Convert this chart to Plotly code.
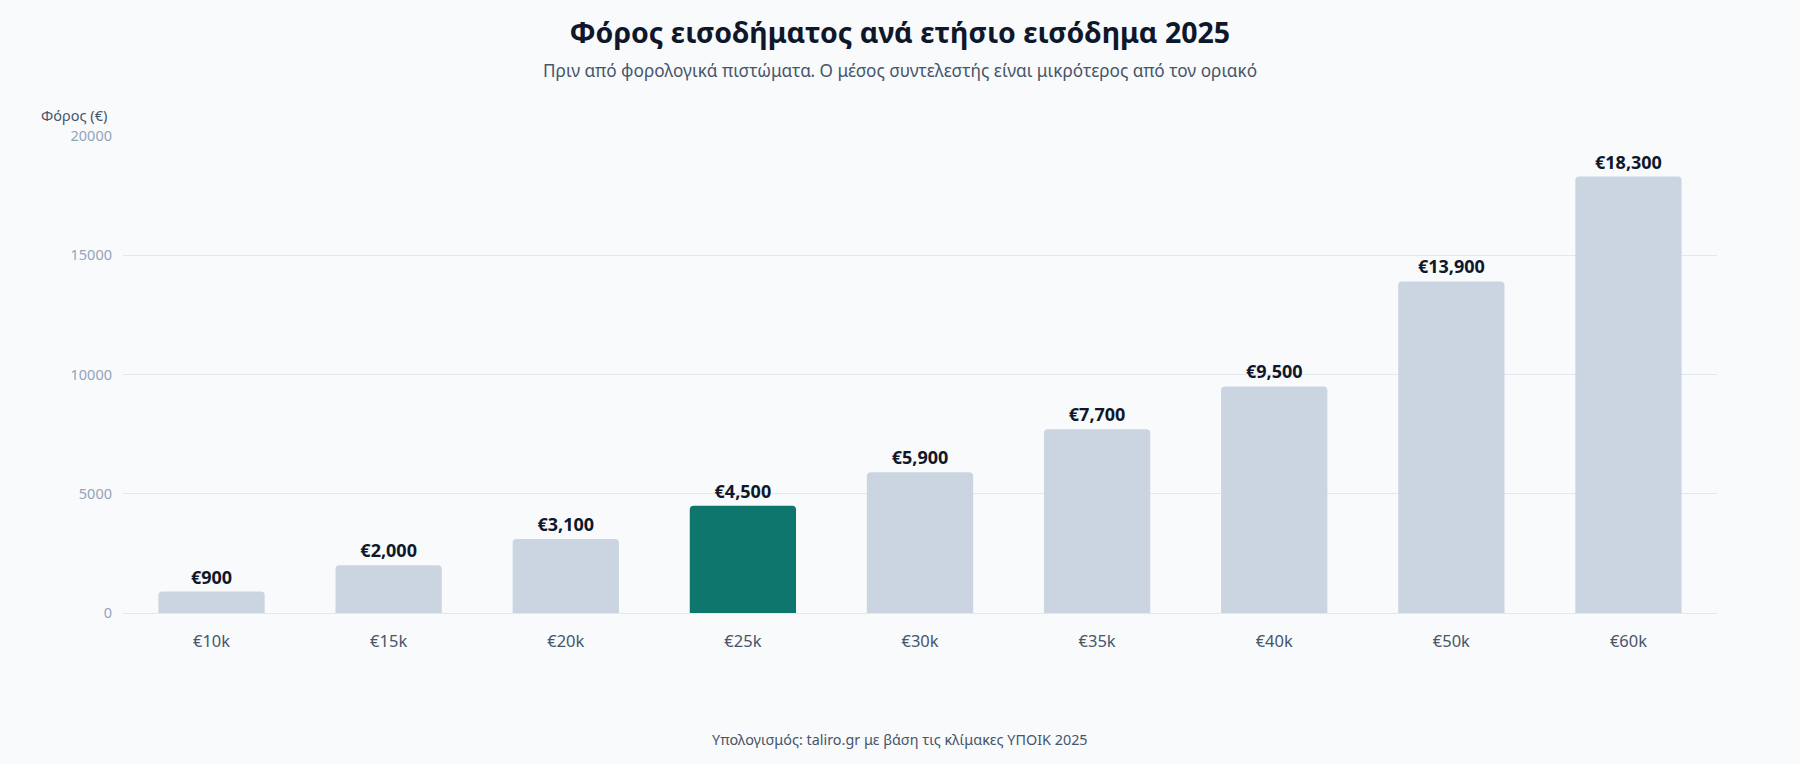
import plotly.graph_objects as go

categories = ["€10k", "€15k", "€20k", "€25k", "€30k", "€35k", "€40k", "€50k", "€60k"]
tax_values = [900, 2000, 3100, 4500, 5900, 7700, 9500, 13900, 18300]
highlight = "€25k"

FONT = "Noto Sans"
colors = ["#0f766e" if c == highlight else "#cbd5e1" for c in categories]
labels = ["€{:,}".format(v) for v in tax_values]

L, R, T, B = 123, 83, 136, 151
PW, PH = 1800 - L - R, 764 - T - B
xc = (900 - L) / PW

fig = go.Figure(go.Bar(
    x=categories, y=tax_values, marker=dict(color=colors, line=dict(width=0), cornerradius=4),
    text=labels, textposition="outside", cliponaxis=False,
    textfont=dict(family=FONT, size=18, color="#0f172a", weight="bold"),
    hoverinfo="skip",
))

fig.update_layout(
    width=1800, height=764,
    paper_bgcolor="#f8fafc", plot_bgcolor="#f8fafc",
    margin=dict(l=L, r=R, t=T, b=B),
    bargap=0.4,
    showlegend=False,
    font=dict(family=FONT),
    title=dict(text="<b>Φόρος εισοδήματος ανά ετήσιο εισόδημα 2025</b>", x=0.5, xanchor="center",
               y=1 - 33/764, yanchor="middle", font=dict(size=28.5, color="#0f172a", family=FONT)),
    xaxis=dict(showgrid=False, zeroline=False, showline=False, ticks="",
               tickfont=dict(size=16.5, color="#475569"), ticklabelstandoff=16),
    yaxis=dict(range=[0, 20000], dtick=5000, showgrid=True, gridcolor="#e2e8f0", gridwidth=1,
               zeroline=True, zerolinecolor="#e2e8f0", zerolinewidth=1,
               tickfont=dict(size=14.5, color="#94a3b8"), tickformat="d", ticklabelstandoff=10),
    annotations=[
        dict(text="Πριν από φορολογικά πιστώματα. Ο μέσος συντελεστής είναι μικρότερος από τον οριακό",
             xref="paper", yref="paper", x=xc, y=1 + (T - 70) / PH, xanchor="center", yanchor="middle",
             showarrow=False, font=dict(size=17.2, color="#475569", family=FONT)),
        dict(text="Φόρος (€)", xref="paper", yref="paper", x=-(L - 39) / PW, y=1 + (T - 115) / PH,
             xanchor="left", yanchor="middle", showarrow=False,
             font=dict(size=14.5, color="#475569", family=FONT)),
        dict(text="Υπολογισμός: taliro.gr με βάση τις κλίμακες ΥΠΟΙΚ 2025",
             xref="paper", yref="paper", x=xc, y=-(740 - (764 - B)) / PH, xanchor="center", yanchor="middle",
             showarrow=False, font=dict(size=14.4, color="#475569", family=FONT)),
    ],
)

fig.write_html("out.html")
